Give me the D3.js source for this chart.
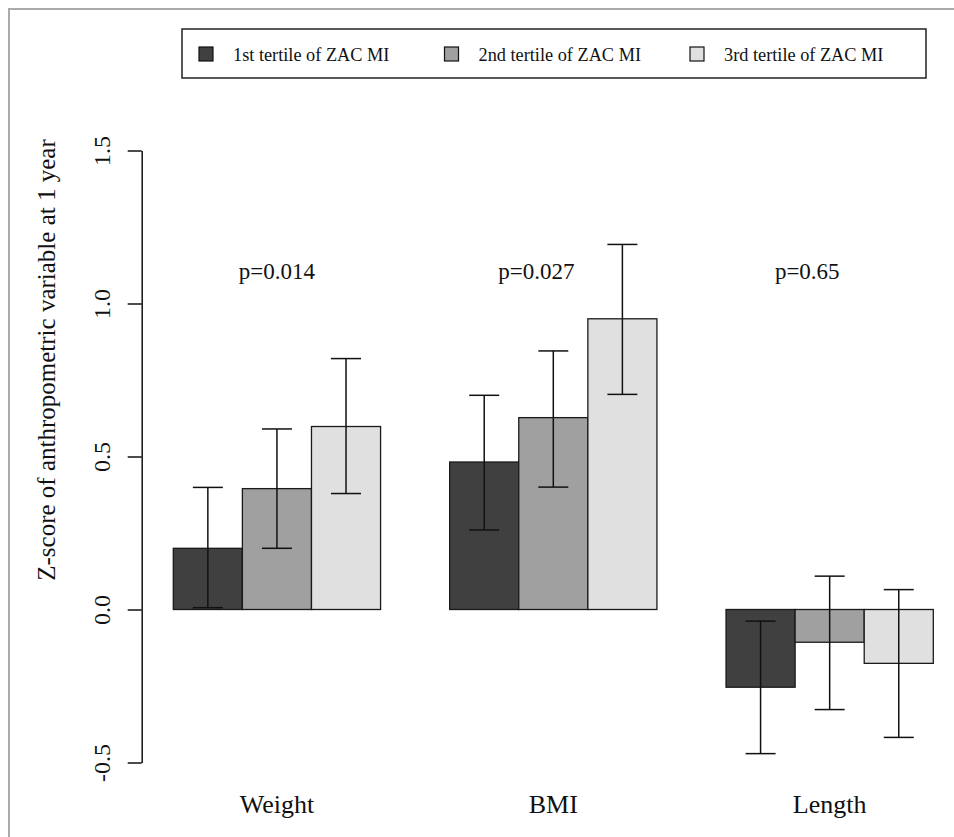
<!DOCTYPE html>
<html>
<head>
<meta charset="utf-8">
<script src="https://cdn.jsdelivr.net/npm/d3@7"></script>
<style>
  html, body { margin: 0; padding: 0; background: #fff; }
  svg { display: block; }
  svg text { font-family: "Liberation Serif", "LiberationSerif", "DejaVu Serif", "Times New Roman", Times, serif !important; fill: #111; }
</style>
</head>
<body>
<svg id="chart" width="954" height="837"></svg>
<script>
// ---- data ----
const categories = ["Weight", "BMI", "Length"];
const series = ["1st tertile of ZAC MI", "2nd tertile of ZAC MI", "3rd tertile of ZAC MI"];
const means = [
  [0.20, 0.395, 0.598],   // Weight
  [0.482, 0.627, 0.950],  // BMI
  [-0.254, -0.107, -0.176] // Length
];
const lower = [
  [0.006, 0.20, 0.379],
  [0.26, 0.40, 0.703],
  [-0.471, -0.327, -0.418]
];
const upper = [
  [0.399, 0.59, 0.82],
  [0.70, 0.845, 1.193],
  [-0.038, 0.109, 0.065]
];
const pLabels = ["p=0.014", "p=0.027", "p=0.65"];
const yTicks = [-0.5, 0.0, 0.5, 1.0, 1.5];
const yTickLabels = ["-0.5", "0.0", "0.5", "1.0", "1.5"];
const yTitle = "Z-score of anthropometric variable at 1 year";

// ---- style ----
const fills = ["#404040", "#a0a0a0", "#e0e0e0"];
const pAnchor = [0.5, 0.418, 0.392]; // horizontal anchor of p-label within group band

const svg = d3.select("#chart");

// frame
svg.append("line").attr("x1", 8).attr("x2", 954).attr("y1", 9).attr("y2", 9)
  .attr("stroke", "#aaaaaa").attr("stroke-width", 2);
svg.append("line").attr("x1", 9).attr("x2", 9).attr("y1", 8).attr("y2", 837)
  .attr("stroke", "#aaaaaa").attr("stroke-width", 2);

const x0 = d3.scaleBand().domain(categories).range([173.3, 933.3]).paddingInner(0.25).paddingOuter(0);
const x1 = d3.scaleBand().domain(d3.range(series.length)).range([0, x0.bandwidth()]).padding(0);
const y = d3.scaleLinear().domain([-0.5, 1.5]).range([762.5, 150.5]);

// bars
const groups = svg.append("g").selectAll("g").data(categories).join("g")
  .attr("transform", d => `translate(${x0(d)},0)`);

groups.each(function(cat, gi) {
  const g = d3.select(this);
  const rows = means[gi].map((m, si) => ({ si, m, lo: lower[gi][si], hi: upper[gi][si] }));
  g.selectAll("rect").data(rows).join("rect")
    .attr("x", d => x1(d.si))
    .attr("width", x1.bandwidth())
    .attr("y", d => y(Math.max(0, d.m)))
    .attr("height", d => Math.abs(y(d.m) - y(0)))
    .attr("fill", d => fills[d.si])
    .attr("stroke", "#1a1a1a").attr("stroke-width", 1.3);

  const eb = g.selectAll("g.eb").data(rows).join("g").attr("class", "eb")
    .attr("transform", d => `translate(${x1(d.si) + x1.bandwidth() / 2},0)`);
  eb.append("line").attr("x1", 0).attr("x2", 0)
    .attr("y1", d => y(d.lo)).attr("y2", d => y(d.hi))
    .attr("stroke", "#111").attr("stroke-width", 1.5);
  eb.append("line").attr("x1", -15).attr("x2", 15)
    .attr("y1", d => y(d.hi)).attr("y2", d => y(d.hi))
    .attr("stroke", "#111").attr("stroke-width", 1.5);
  eb.append("line").attr("x1", -15).attr("x2", 15)
    .attr("y1", d => y(d.lo)).attr("y2", d => y(d.lo))
    .attr("stroke", "#111").attr("stroke-width", 1.5);

  // p-label
  g.append("text")
    .attr("x", x0.bandwidth() * pAnchor[gi])
    .attr("y", y(1.08))
    .attr("text-anchor", "middle")
    .attr("font-size", 23)
    .text(pLabels[gi]);

  // category label
  g.append("text")
    .attr("x", x0.bandwidth() / 2)
    .attr("y", 813)
    .attr("text-anchor", "middle")
    .attr("font-size", 26)
    .text(cat);
});

// y axis
const axis = d3.axisLeft(y).tickValues(yTicks).tickSize(14).tickSizeOuter(0)
  .tickFormat((d, i) => yTickLabels[i]);
const ag = svg.append("g").attr("transform", "translate(141.7,0)").call(axis);
ag.attr("font-family", null).attr("font-size", null);
ag.select(".domain").attr("stroke", "#111").attr("stroke-width", 1.5);
ag.selectAll(".tick line").attr("stroke", "#111").attr("stroke-width", 1.5);
ag.selectAll(".tick text")
  .attr("x", null).attr("dy", null)
  .attr("transform", "translate(-32,0) rotate(-90)")
  .attr("text-anchor", "middle")
  .attr("font-size", 24)
  .attr("fill", "#111");

// y title
svg.append("text")
  .attr("transform", "translate(55,360) rotate(-90)")
  .attr("text-anchor", "middle")
  .attr("font-size", 25)
  .text(yTitle);

// legend
const leg = svg.append("g");
leg.append("rect").attr("x", 182).attr("y", 29).attr("width", 744).attr("height", 49)
  .attr("fill", "#fff").attr("stroke", "#222").attr("stroke-width", 1.5);
const items = leg.selectAll("g.item").data(series).join("g").attr("class", "item")
  .attr("transform", (d, i) => `translate(${199 + i * 245.5},0)`);
items.append("rect").attr("x", 0).attr("y", 47).attr("width", 14).attr("height", 14)
  .attr("fill", (d, i) => fills[i]).attr("stroke", "#111").attr("stroke-width", 1.2);
items.append("text").attr("x", 34).attr("y", 61).attr("font-size", 18.3).text(d => d);
</script>
</body>
</html>
